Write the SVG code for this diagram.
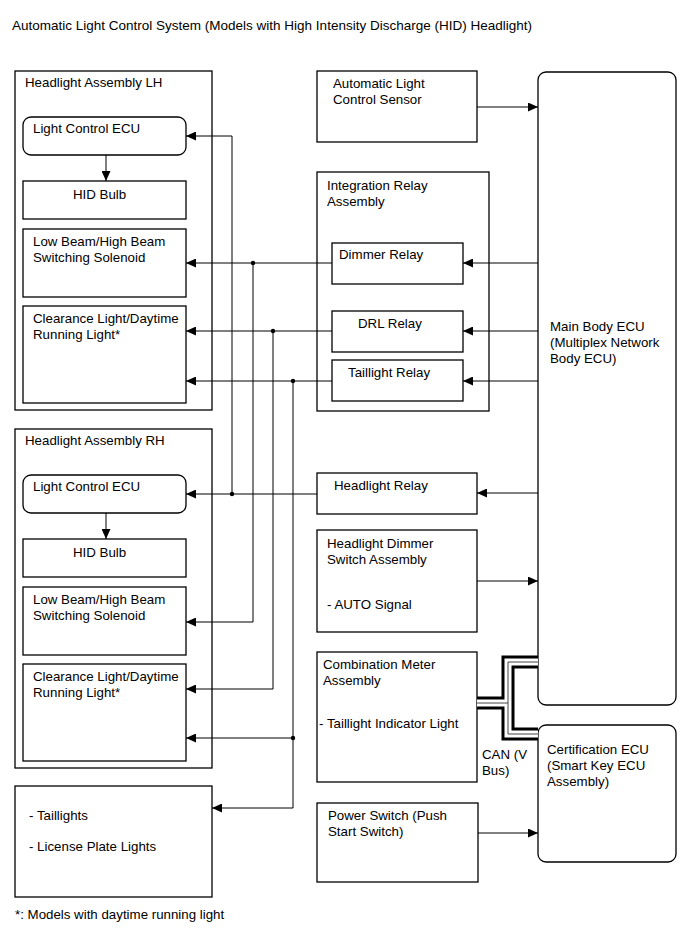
<svg xmlns="http://www.w3.org/2000/svg" width="689" height="950" viewBox="0 0 689 950">
<style>
text{font-family:"Liberation Sans",Arial,sans-serif;font-size:13.3px;fill:#000}
.t{font-size:13.5px}
.b{fill:#fff;stroke:#000;stroke-width:1.3}
.c{fill:none;stroke:#000;stroke-width:1}
.d{fill:#000}
</style>
<defs>
<marker id="ar" markerUnits="userSpaceOnUse" markerWidth="11" markerHeight="9" refX="10" refY="4.5" orient="auto">
<path d="M0,0 L10,4.5 L0,9 Z" fill="#000"/>
</marker>
</defs>
<rect width="689" height="950" fill="#fff"/>
<text class="t" x="12" y="30">Automatic Light Control System (Models with High Intensity Discharge (HID) Headlight)</text>

<g id="hl-lh">
<rect class="b" x="15" y="71" width="197" height="339"/>
<text x="25" y="87">Headlight Assembly LH</text>
</g>
<g id="lce-lh"><rect class="b" x="23" y="117" width="163" height="38" rx="8"/><text x="33" y="133">Light Control ECU</text></g>
<g id="hid-lh"><rect class="b" x="23" y="181" width="163" height="38"/><text x="73" y="199">HID Bulb</text></g>
<g id="sol-lh"><rect class="b" x="23" y="229" width="163" height="68"/><text x="33" y="246">Low Beam/High Beam</text><text x="33" y="262">Switching Solenoid</text></g>
<g id="clr-lh"><rect class="b" x="23" y="306" width="163" height="97"/><text x="33" y="323">Clearance Light/Daytime</text><text x="33" y="339">Running Light*</text></g>

<g id="hl-rh">
<rect class="b" x="15" y="429" width="197" height="339"/>
<text x="25" y="445">Headlight Assembly RH</text>
</g>
<g id="lce-rh"><rect class="b" x="23" y="475" width="163" height="38" rx="8"/><text x="33" y="491">Light Control ECU</text></g>
<g id="hid-rh"><rect class="b" x="23" y="539" width="163" height="38"/><text x="73" y="557">HID Bulb</text></g>
<g id="sol-rh"><rect class="b" x="23" y="587" width="163" height="68"/><text x="33" y="604">Low Beam/High Beam</text><text x="33" y="620">Switching Solenoid</text></g>
<g id="clr-rh"><rect class="b" x="23" y="664" width="163" height="97"/><text x="33" y="681">Clearance Light/Daytime</text><text x="33" y="697">Running Light*</text></g>

<g id="tail"><rect class="b" x="15" y="786" width="197" height="111"/><text x="29" y="820">- Taillights</text><text x="29" y="851">- License Plate Lights</text></g>

<g id="sensor"><rect class="b" x="317" y="71" width="160" height="71"/><text x="333" y="88">Automatic Light</text><text x="333" y="104">Control Sensor</text></g>

<g id="irelay"><rect class="b" x="317" y="172" width="172" height="239"/><text x="327" y="190">Integration Relay</text><text x="327" y="206">Assembly</text></g>
<g id="dimmer"><rect class="b" x="332" y="243" width="131" height="41"/><text x="339" y="259">Dimmer Relay</text></g>
<g id="drl"><rect class="b" x="332" y="311" width="131" height="41"/><text x="358" y="328">DRL Relay</text></g>
<g id="taillight-relay"><rect class="b" x="332" y="360" width="131" height="41"/><text x="348" y="377">Taillight Relay</text></g>

<g id="hrelay"><rect class="b" x="317" y="473" width="160" height="41"/><text x="334" y="490">Headlight Relay</text></g>
<g id="dimsw"><rect class="b" x="317" y="530" width="160" height="102"/><text x="327" y="548">Headlight Dimmer</text><text x="327" y="564">Switch Assembly</text><text x="327" y="609">- AUTO Signal</text></g>
<g id="meter"><rect class="b" x="317" y="652" width="160" height="130"/><text x="323" y="669">Combination Meter</text><text x="323" y="685">Assembly</text><text x="319" y="728">- Taillight Indicator Light</text></g>
<g id="pwr"><rect class="b" x="317" y="803" width="161" height="79"/><text x="328" y="820">Power Switch (Push</text><text x="328" y="836">Start Switch)</text></g>

<g id="mainecu"><rect class="b" x="538" y="72" width="138" height="633" rx="8"/><text x="550" y="331">Main Body ECU</text><text x="550" y="347">(Multiplex Network</text><text x="550" y="363">Body ECU)</text></g>
<g id="certecu"><rect class="b" x="538" y="725" width="138" height="137" rx="8"/><text x="547" y="754">Certification ECU</text><text x="547" y="770">(Smart Key ECU</text><text x="547" y="786">Assembly)</text></g>

<text x="482" y="759">CAN (V</text>
<text x="482" y="775">Bus)</text>

<g id="connectors">
<path class="c" d="M106,155 V181" marker-end="url(#ar)"/>
<path class="c" d="M106,513 V539" marker-end="url(#ar)"/>
<path class="c" d="M232,494 V136 H186" marker-end="url(#ar)"/>
<path class="c" d="M317,494 H186" marker-end="url(#ar)"/>
<path class="c" d="M332,263 H186" marker-end="url(#ar)"/>
<path class="c" d="M253,263 V622 H186" marker-end="url(#ar)"/>
<path class="c" d="M332,331 H186" marker-end="url(#ar)"/>
<path class="c" d="M273,331 V689 H186" marker-end="url(#ar)"/>
<path class="c" d="M332,381 H186" marker-end="url(#ar)"/>
<path class="c" d="M293,381 V808 H212" marker-end="url(#ar)"/>
<path class="c" d="M293,738 H186" marker-end="url(#ar)"/>
<circle class="d" cx="232" cy="494" r="2.2"/>
<circle class="d" cx="253" cy="263" r="2.2"/>
<circle class="d" cx="273" cy="331" r="2.2"/>
<circle class="d" cx="293" cy="381" r="2.2"/>
<circle class="d" cx="293" cy="738" r="2.2"/>
<path class="c" d="M477,107 H538" marker-end="url(#ar)"/>
<path class="c" d="M538,263 H463" marker-end="url(#ar)"/>
<path class="c" d="M538,331 H463" marker-end="url(#ar)"/>
<path class="c" d="M538,381 H463" marker-end="url(#ar)"/>
<path class="c" d="M538,493 H477" marker-end="url(#ar)"/>
<path class="c" d="M477,581 H538" marker-end="url(#ar)"/>
<path class="c" d="M478,833 H538" marker-end="url(#ar)"/>
<g id="can-bus" fill="none">
<path d="M538,662 H508 V734 H538 M477,703 H508" stroke="#000" stroke-width="13"/>
<path d="M538,662 H508 V734 H538 M477,703 H508" stroke="#fff" stroke-width="7"/>
<path d="M538,662 H508 V734 H538 M477,703 H508" stroke="#444" stroke-width="1"/>
</g>
</g>

<text x="15" y="919">*: Models with daytime running light</text>
</svg>
